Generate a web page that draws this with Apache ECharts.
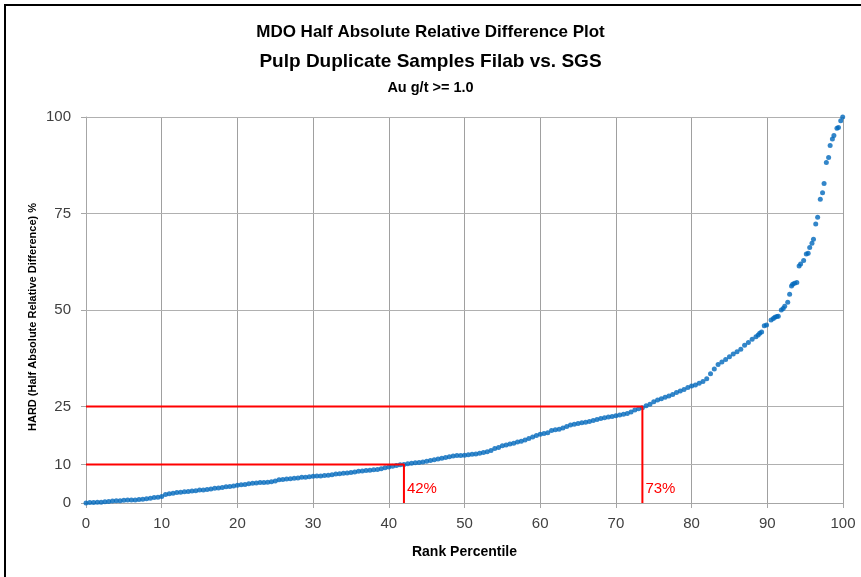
<!DOCTYPE html>
<html>
<head>
<meta charset="utf-8">
<script src="https://cdn.jsdelivr.net/npm/echarts@6.0.0/dist/echarts.min.js"></script>
<style>
html,body{margin:0;padding:0;background:#fff;}
#chart{width:861px;height:577px;}
</style>
</head>
<body>
<div id="chart"></div>
<script>
// Rank percentile (x) and HARD % (y)
const rankPct = [
0,0.5,1,1.5,2,2.5,3,3.5,4,4.5,5,5.5,6,6.5,7,7.5,8,8.5,9,9.5,
10,10.5,11,11.5,12,12.5,13,13.5,14,14.5,15,15.5,16,16.5,17,17.5,18,18.5,19,19.5,
20,20.5,21,21.5,22,22.5,23,23.5,24,24.5,25,25.5,26,26.5,27,27.5,28,28.5,29,29.5,
30,30.5,31,31.5,32,32.5,33,33.5,34,34.5,35,35.5,36,36.5,37,37.5,38,38.5,39,39.5,
40,40.5,41,41.5,42,42.5,43,43.5,44,44.5,45,45.5,46,46.5,47,47.5,48,48.5,49,49.5,
50,50.5,51,51.5,52,52.5,53,53.5,54,54.5,55,55.5,56,56.5,57,57.5,58,58.5,59,59.5,
60,60.5,61,61.5,62,62.5,63,63.5,64,64.5,65,65.5,66,66.5,67,67.5,68,68.5,69,69.5,
70,70.5,71,71.5,72,72.5,73,73.5,74,74.5,75,75.5,76,76.5,77,77.5,78,78.5,79,79.5,
80,80.5,81,81.5,82,82.5,83,83.5,84,84.5,85,85.5,86,86.5,87,87.5,88,88.5,
88.8,89.0,89.25,89.6,89.9,90.5,90.8,91.0,91.25,91.45,91.85,92.1,92.3,92.7,92.95,
93.2,93.35,93.6,93.9,94.2,94.4,94.8,95.15,95.4,95.6,95.9,96.1,96.4,96.65,97.0,
97.3,97.5,97.8,98.1,98.3,98.6,98.8,99.2,99.4,99.7,99.96
];
const hardPct = [
0.0,0.1,0.1,0.2,0.2,0.3,0.4,0.5,0.6,0.6,0.7,0.8,0.8,0.8,0.9,1.0,1.1,1.2,1.4,1.5,
1.7,2.2,2.4,2.5,2.7,2.8,2.9,3.0,3.1,3.2,3.4,3.4,3.5,3.6,3.8,3.9,4.0,4.2,4.3,4.4,
4.6,4.7,4.8,5.0,5.1,5.2,5.3,5.3,5.4,5.5,5.7,6.0,6.1,6.2,6.3,6.4,6.5,6.7,6.7,6.8,
6.9,7.0,7.0,7.1,7.2,7.3,7.5,7.6,7.7,7.8,7.9,8.0,8.2,8.3,8.4,8.5,8.6,8.7,8.9,9.1,
9.3,9.5,9.7,9.9,10.0,10.2,10.3,10.4,10.5,10.6,10.8,11.0,11.2,11.4,11.6,11.8,12.0,12.2,12.3,12.3,
12.4,12.5,12.6,12.7,12.9,13.1,13.3,13.6,14.1,14.4,14.8,15.0,15.3,15.5,15.8,16.0,16.3,16.7,17.1,17.5,
17.8,18.0,18.2,18.8,19.0,19.1,19.4,19.8,20.2,20.4,20.6,20.8,20.9,21.1,21.4,21.6,21.9,22.1,22.3,22.4,
22.6,22.8,23.0,23.2,23.6,24.1,24.4,24.7,25.2,25.6,26.2,26.7,27.0,27.4,27.7,28.1,28.6,29.0,29.4,29.9,
30.3,30.6,31.0,31.5,32.2,33.5,34.7,35.9,36.5,37.2,37.9,38.6,39.2,39.8,40.9,41.6,42.4,43.1,
43.5,44.0,44.3,45.9,46.1,47.4,47.8,48.1,48.3,48.4,50.0,50.4,51.0,52.0,54.1,
56.2,56.7,56.9,57.1,61.4,61.9,62.8,64.5,64.7,66.2,67.3,68.3,72.3,74.0,78.7,
80.4,82.8,88.2,89.5,92.6,94.3,95.2,97.1,97.3,99.0,100.0
];
const yTicks = [0, 10, 25, 50, 75, 100];
const thresholdHard = [10, 25];
const thresholdPct = [42, 73.5];
const thresholdLabels = ['42%', '73%'];

const FONT = "'Liberation Sans', Arial, sans-serif";
const points = rankPct.map((p, i) => [p, hardPct[i]]);

const refSeries = thresholdHard.map((h, i) => ({
  type: 'line',
  data: [[0, h], [thresholdPct[i], h], [thresholdPct[i], 0]],
  symbol: 'none',
  silent: true,
  z: 6,
  lineStyle: { color: '#ff0000', width: 2 },
  markPoint: {
    symbol: 'rect', symbolSize: 0,
    data: [{ coord: [thresholdPct[i], 0] }],
    label: {
      show: true, formatter: thresholdLabels[i], color: '#ff0000',
      fontFamily: FONT, fontSize: 15, position: 'insideBottomLeft',
      offset: [-2, -2], align: 'left', verticalAlign: 'bottom'
    }
  }
}));

const chart = echarts.init(document.getElementById('chart'), null, { renderer: 'canvas' });
chart.setOption({
  animation: false,
  backgroundColor: '#fff',
  graphic: [
    { type: 'rect', shape: { x: 5, y: 5, width: 1000, height: 1000 }, style: { fill: 'none', stroke: '#000', lineWidth: 2 }, silent: true },
    { type: 'text', left: 'center', top: 24, style: { text: 'MDO Half Absolute Relative Difference Plot', font: "bold 17px " + FONT, fill: '#000' } },
    { type: 'text', left: 'center', top: 52, style: { text: 'Pulp Duplicate Samples Filab vs. SGS', font: "bold 19px " + FONT, fill: '#000' } },
    { type: 'text', left: 'center', top: 80, style: { text: 'Au g/t >= 1.0', font: "bold 14.5px " + FONT, fill: '#000' } },
    { type: 'text', x: 33, y: 317, rotation: Math.PI / 2, style: { text: 'HARD (Half Absolute Relative Difference) %', font: "bold 11px " + FONT, fill: '#000', align: 'center', verticalAlign: 'middle' } }
  ],
  grid: { left: 86, right: 18, top: 117, bottom: 74, containLabel: false },
  xAxis: {
    type: 'value', min: 0, max: 100, interval: 10,
    name: 'Rank Percentile', nameLocation: 'middle', nameGap: 42,
    nameTextStyle: { fontFamily: FONT, fontSize: 14, fontWeight: 'bold', color: '#000' },
    axisLine: { show: true, lineStyle: { color: '#a6a6a6', width: 1 } },
    axisTick: { show: true, length: 5, lineStyle: { color: '#a6a6a6' } },
    axisLabel: { fontFamily: FONT, fontSize: 15, color: '#404040', margin: 13 },
    splitLine: { show: true, lineStyle: { color: '#a0a0a0', width: 1 } }
  },
  yAxis: {
    type: 'value', min: 0, max: 100,
    axisLine: { show: true, lineStyle: { color: '#a6a6a6', width: 1 } },
    axisTick: { show: true, length: 5, customValues: yTicks, lineStyle: { color: '#a6a6a6' } },
    axisLabel: { fontFamily: FONT, fontSize: 15, color: '#404040', margin: 15, customValues: yTicks },
    splitLine: { show: false }
  },
  series: [
    {
      type: 'scatter',
      data: points,
      symbol: 'circle',
      symbolSize: 5,
      itemStyle: { color: '#0068bc' },
      z: 4,
      silent: true,
      markLine: {
        silent: true, symbol: 'none', label: { show: false }, z: 1,
        lineStyle: { color: '#b0b0b0', width: 1, type: 'solid' },
        data: yTicks.filter(v => v > 0).map(v => ({ yAxis: v }))
      }
    },
    ...refSeries
  ]
});
</script>
</body>
</html>
